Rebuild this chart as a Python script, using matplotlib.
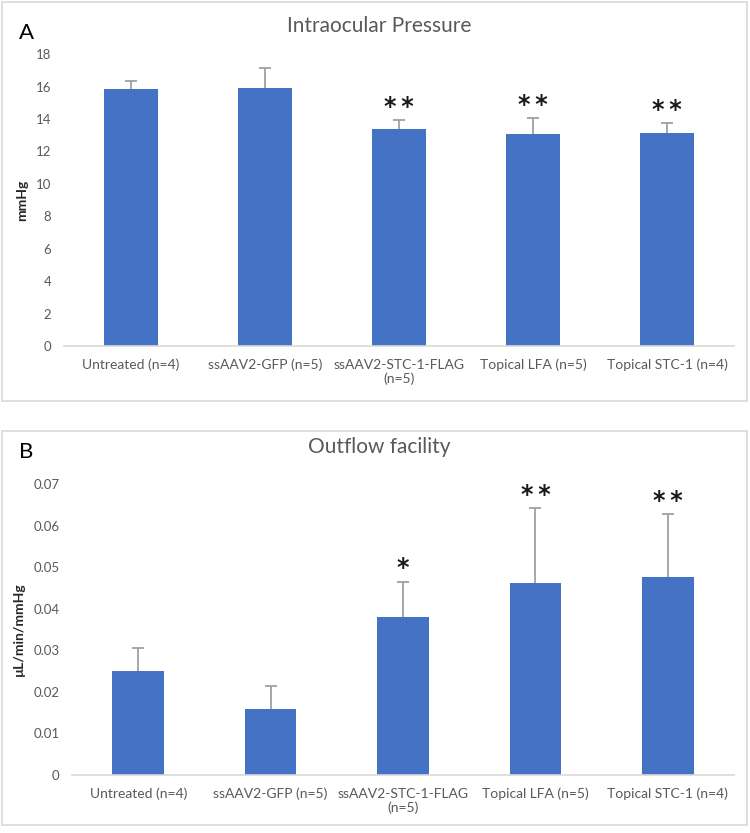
import numpy as np
import matplotlib.pyplot as plt
from matplotlib.patches import Rectangle

plt.rcParams['font.family'] = ['Lato', 'DejaVu Sans']

groups = ['Untreated (n=4)', 'ssAAV2-GFP (n=5)', 'ssAAV2-STC-1-FLAG\n(n=5)',
          'Topical LFA (n=5)', 'Topical STC-1 (n=4)']

iop_mean = [15.85, 15.92, 13.38, 13.08, 13.13]
iop_err = [0.5, 1.22, 0.55, 0.98, 0.62]
iop_stars = ['', '', '**', '**', '**']
iop_ticks = [0, 2, 4, 6, 8, 10, 12, 14, 16, 18]

flow_mean = [0.0251, 0.0160, 0.0380, 0.0461, 0.0476]
flow_err = [0.0054, 0.0053, 0.0085, 0.0181, 0.0151]
flow_stars = ['', '', '*', '**', '**']
flow_ticks = [0, 0.01, 0.02, 0.03, 0.04, 0.05, 0.06, 0.07]
flow_ticklabels = ['0', '0.01', '0.02', '0.03', '0.04', '0.05', '0.06', '0.07']

bar_col = '#4472C4'
grey = '#595959'
err_col = '#a0a0a0'

fig = plt.figure(figsize=(7.5, 8.33), dpi=100)

# panel frames
for y0, hgt in [(0.5186, 0.479), (0.0096, 0.473)]:
    fig.patches.append(Rectangle((0.003, y0), 0.993, hgt, transform=fig.transFigure,
                                 fill=False, edgecolor='#d9d9d9', lw=1.2))


def panel(rect, means, errs, stars, ticks, ticklabels, ylabel, title, letter,
          title_y, letter_y, width):
    ax = fig.add_axes(rect)
    x = np.arange(len(groups))
    top = np.array(means) + np.array(errs)
    ax.bar(x, means, width=width, color=bar_col, zorder=2)
    # plus-only error bars, cap at the top only
    ax.vlines(x, means, top, color=err_col, lw=1.3, zorder=3)
    ax.plot(x, top, ls='none', marker='_', ms=8, mew=1.3, color=err_col, zorder=3)
    for xi, t, s in zip(x, top, stars):
        if s:
            ax.annotate('\u2009'.join(s), (xi, t), xytext=(0, 1), textcoords='offset points',
                        ha='center', va='bottom', fontsize=17, fontweight='bold',
                        color='#1a1a1a', family='DejaVu Sans')
    ax.set_xlim(-0.5, len(groups) - 0.5)
    ax.set_ylim(ticks[0], ticks[-1])
    ax.set_yticks(ticks)
    ax.set_yticklabels(ticklabels)
    ax.set_xticks(x)
    ax.set_xticklabels(groups)
    ax.tick_params(axis='y', length=0, pad=9, labelsize=9.5, labelcolor=grey)
    ax.tick_params(axis='x', length=0, pad=9, labelsize=10, labelcolor=grey)
    for sp in ['top', 'right', 'left']:
        ax.spines[sp].set_visible(False)
    ax.spines['bottom'].set_color('#d9d9d9')
    ax.spines['bottom'].set_linewidth(1.2)
    ax.set_ylabel(ylabel, fontsize=10, fontweight='bold', color='#262626', labelpad=6)
    fig.text(0.505, title_y, title, ha='center', va='center', fontsize=15, color=grey)
    fig.text(0.035, letter_y, letter, ha='center', va='center', fontsize=16, color='black')
    return ax


panel([0.0853, 0.5846, 0.8933, 0.3505], iop_mean, iop_err, iop_stars, iop_ticks,
      [str(t) for t in iop_ticks], 'mmHg', 'Intraocular Pressure', 'A',
      1 - 26 / 833, 1 - 33 / 833, 0.40)
panel([0.096, 0.0696, 0.8827, 0.3493], flow_mean, flow_err, flow_stars, flow_ticks,
      flow_ticklabels, 'µL/min/mmHg', 'Outflow facility', 'B',
      1 - 447 / 833, 1 - 452 / 833, 0.39)

fig.savefig('out.png', dpi=100)
